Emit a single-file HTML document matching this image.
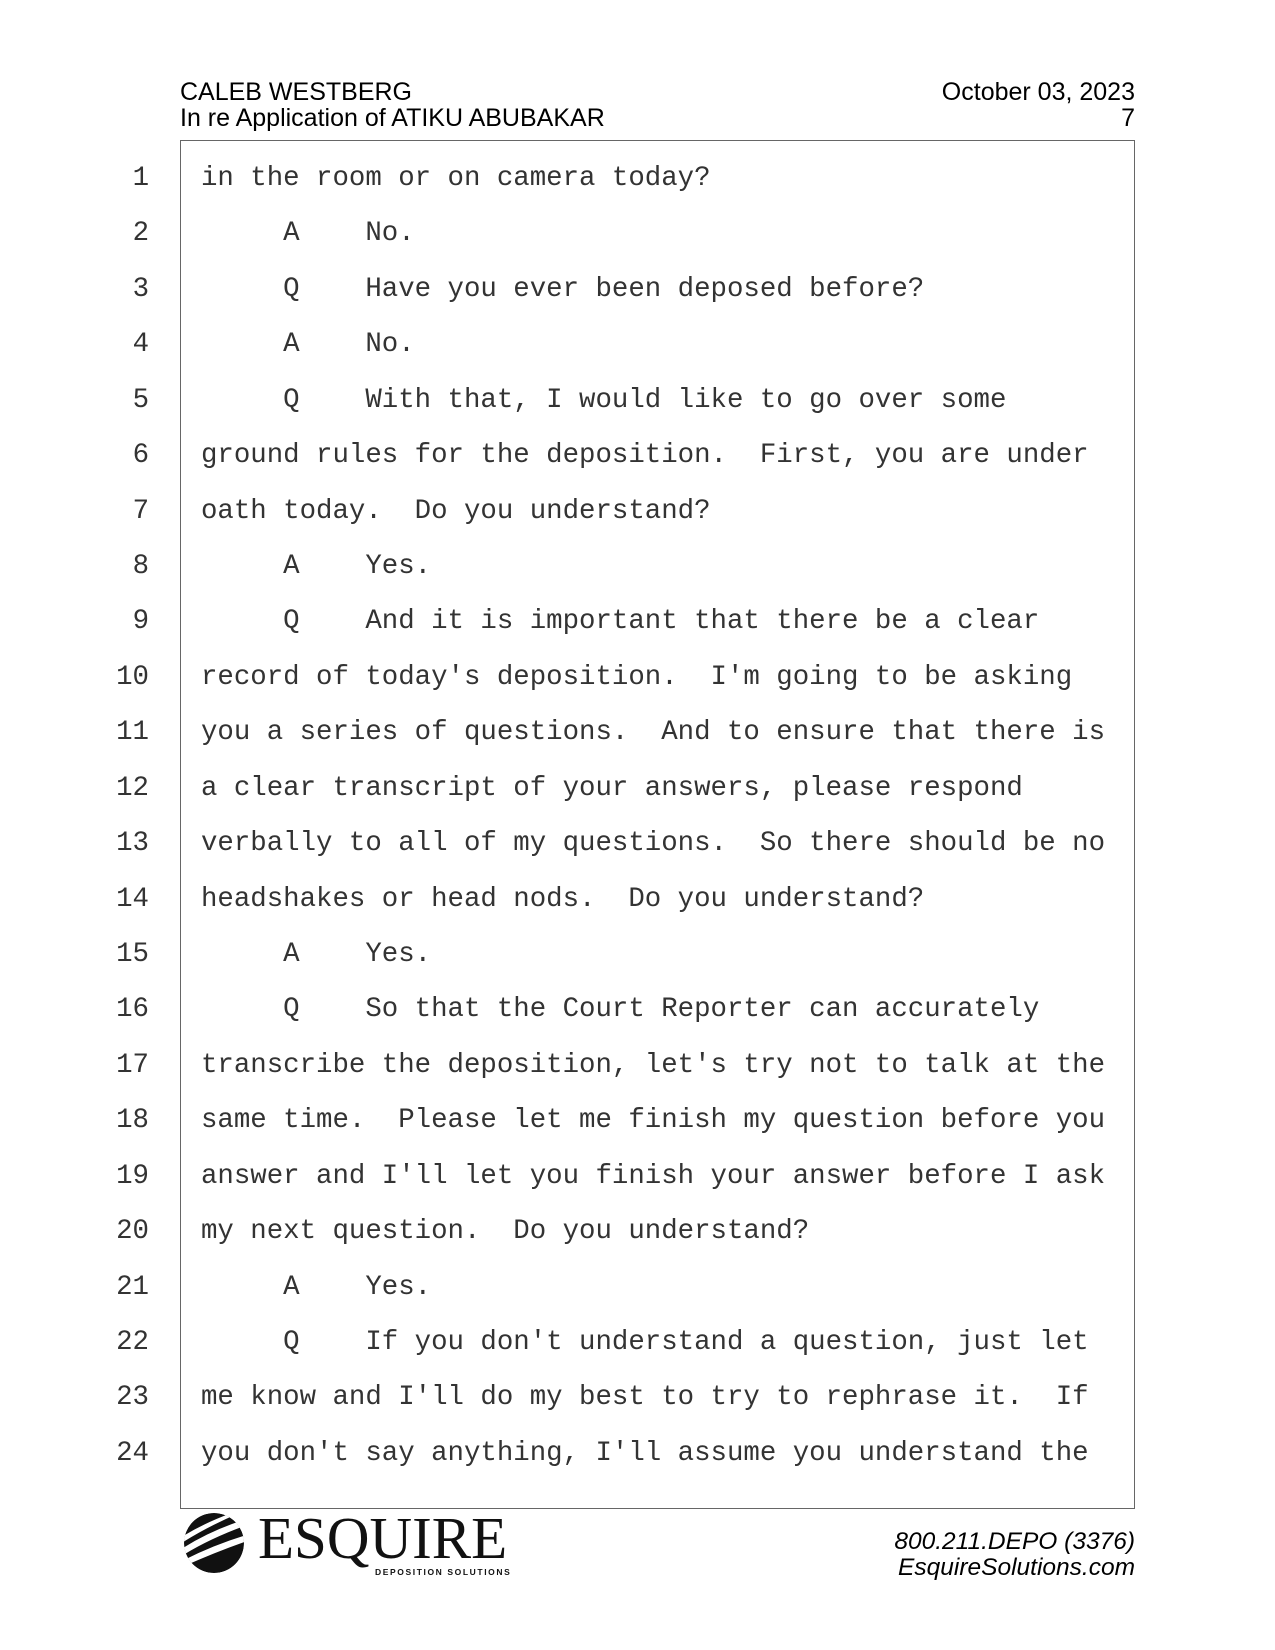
<!DOCTYPE html>
<html><head><meta charset="utf-8"><style>
body{margin:0;background:#fff;}
.pg{position:relative;width:1275px;height:1650px;overflow:hidden;background:#fff;}
.h{position:absolute;font-family:"Liberation Sans",sans-serif;font-size:25px;color:#000;line-height:26px;}
.box{position:absolute;left:180px;top:140px;width:955px;height:1369px;border:1.5px solid #666;box-sizing:border-box;}
.ln{position:absolute;font-family:"Liberation Mono",monospace;font-size:27.4px;color:#333;white-space:pre;line-height:30px;}
.num{right:1126px;text-align:right;}
.tx{left:201px;}
</style></head><body><div class="pg">
<div class="h" style="left:180px;top:79px;">CALEB WESTBERG<br>In re Application of ATIKU ABUBAKAR</div>
<div class="h" style="right:140px;top:79px;text-align:right;">October 03, 2023<br>7</div>
<div class="box"></div>
<svg style="position:absolute;left:180px;top:1510px" width="70" height="66" viewBox="0 0 70 66">
<defs><clipPath id="c"><circle cx="34" cy="33" r="30"/></clipPath></defs>
<g clip-path="url(#c)"><circle cx="34" cy="33" r="30" fill="#111"/>
<path d="M0 40 Q30 20 70 8 L70 14 Q30 28 0 47Z" fill="#fff"/>
<path d="M0 52 Q35 34 70 24 L70 30 Q35 42 0 58Z" fill="#fff"/>
<path d="M0 28 Q25 12 60 0 L66 0 Q28 16 0 34Z" fill="#fff"/></g></svg>
<div style="position:absolute;left:258px;top:1509px;font-family:'Liberation Serif',serif;font-size:59px;line-height:59px;color:#111;">ESQUIRE</div>
<div style="position:absolute;left:375px;top:1567px;font-family:'Liberation Sans',sans-serif;font-size:8.5px;letter-spacing:1.6px;color:#111;font-weight:bold;">DEPOSITION SOLUTIONS</div>
<div class="h" style="right:140px;top:1529px;text-align:right;font-style:italic;font-size:24.5px;">800.211.DEPO (3376)<br>EsquireSolutions.com</div>
</div>
<script>
var L=["in the room or on camera today?","     A    No.","     Q    Have you ever been deposed before?","     A    No.","     Q    With that, I would like to go over some","ground rules for the deposition.  First, you are under","oath today.  Do you understand?","     A    Yes.","     Q    And it is important that there be a clear","record of today's deposition.  I'm going to be asking","you a series of questions.  And to ensure that there is","a clear transcript of your answers, please respond","verbally to all of my questions.  So there should be no","headshakes or head nods.  Do you understand?","     A    Yes.","     Q    So that the Court Reporter can accurately","transcribe the deposition, let's try not to talk at the","same time.  Please let me finish my question before you","answer and I'll let you finish your answer before I ask","my next question.  Do you understand?","     A    Yes.","     Q    If you don't understand a question, just let","me know and I'll do my best to try to rephrase it.  If","you don't say anything, I'll assume you understand the"];
var pg=document.querySelector('.pg'),h='';
for(var i=0;i<24;i++){var t=186+i*55.43-22;
h+='<div class="ln num" style="top:'+t+'px">'+(i+1)+'</div><div class="ln tx" style="top:'+t+'px">'+L[i].replace(/&/g,'&amp;').replace(/</g,'&lt;')+'</div>';}
pg.insertAdjacentHTML('beforeend',h);
</script>
</body></html>
